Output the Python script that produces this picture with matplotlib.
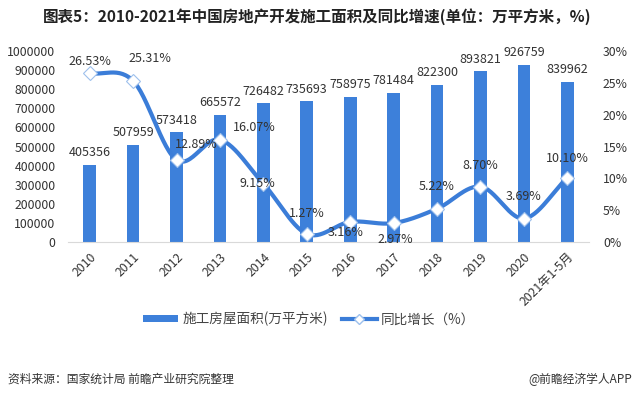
import numpy as np
import matplotlib
matplotlib.use("Agg")
import matplotlib.pyplot as plt
from matplotlib.lines import Line2D
from matplotlib.patches import Patch

plt.rcParams['font.family'] = ['Noto Sans CJK SC', 'DejaVu Sans']

categories = ['2010', '2011', '2012', '2013', '2014', '2015', '2016', '2017',
              '2018', '2019', '2020', '2021年1-5月']
area = [405356, 507959, 573418, 665572, 726482, 735693, 758975, 781484,
        822300, 893821, 926759, 839962]
growth = [26.53, 25.31, 12.89, 16.07, 9.15, 1.27, 3.16, 2.97, 5.22, 8.70, 3.69, 10.10]
left_ticks = list(range(0, 1000001, 100000))
right_ticks = list(range(0, 31, 5))

# label offsets in points (dx, dy) for growth labels
growth_offsets = [(0, 8), (12, 16), (14, 11), (25, 9), (-4, 0), (0, 15),
                  (-3, -8), (1, -12), (0, 16), (0, 15), (0, 16), (0, 14)]

bar_color = '#3D80DA'
line_color = '#3B7DD8'
text_color = '#333333'

fig = plt.figure(figsize=(6.4, 3.99), dpi=100)
ax = fig.add_axes([68/640, 1-242/399, (589-68)/640, (242-51)/399])
x = np.arange(len(categories))
ax.bar(x, area, width=0.29, color=bar_color, zorder=2)
ax.set_xlim(-0.5, len(categories)-0.5)
ax.set_ylim(0, 1000000)
ax.set_yticks(left_ticks)
ax.set_yticklabels([str(v) for v in left_ticks], fontsize=8.8, color=text_color)
ax.set_xticks(x)
ax.set_xticklabels(categories, rotation=45, ha='right', rotation_mode='anchor',
                   fontsize=8.8, color=text_color)
for s in ['top', 'left', 'right']:
    ax.spines[s].set_visible(False)
ax.spines['bottom'].set_color('#D9D9D9')
ax.tick_params(axis='y', length=0, pad=9)
ax.tick_params(axis='x', length=0, pad=6)
for xi, v in zip(x, area):
    ax.annotate(str(v), (xi, v), xytext=(0, 4), textcoords='offset points',
                ha='center', va='bottom', fontsize=9, color=text_color)

ax2 = ax.twinx()
ax2.set_ylim(0, 30)
ax2.set_yticks(right_ticks)
ax2.set_yticklabels([f'{v}%' for v in right_ticks], fontsize=8.8, color=text_color)
for s in ['top', 'left', 'right', 'bottom']:
    ax2.spines[s].set_visible(False)
ax2.tick_params(axis='both', length=0, pad=10)

# Catmull-Rom smoothing through data points
gx = np.array(x, dtype=float)
gy = np.array(growth, dtype=float)
px = np.concatenate([[2*gx[0]-gx[1]], gx, [2*gx[-1]-gx[-2]]])
py = np.concatenate([[2*gy[0]-gy[1]], gy, [2*gy[-1]-gy[-2]]])
sx, sy = [], []
t = np.linspace(0, 1, 30)
for i in range(1, len(px)-2):
    p0, p1, p2, p3 = [np.array([px[j], py[j]]) for j in (i-1, i, i+1, i+2)]
    for tt in t:
        pt = 0.5*((2*p1) + (-p0+p2)*tt + (2*p0-5*p1+4*p2-p3)*tt**2 + (-p0+3*p1-3*p2+p3)*tt**3)
        sx.append(pt[0]); sy.append(pt[1])
ax2.plot(sx, sy, color=line_color, lw=3, zorder=3, solid_capstyle='round')
ax2.plot(gx, gy, ls='none', marker='D', ms=7, mfc='white', mec='#9EC0EC', mew=0.8, zorder=4)
for xi, v, (dx, dy) in zip(gx, gy, growth_offsets):
    ax2.annotate(f'{v:.2f}%', (xi, v), xytext=(dx, dy), textcoords='offset points',
                 ha='center', va='center', fontsize=9, color=text_color, zorder=5)

fig.text(0.496, 1-17/399, '图表5：2010-2021年中国房地产开发施工面积及同比增速(单位：万平方米，%)',
         ha='center', va='center', fontsize=11.2, fontweight='bold', color='#222222')

handles = [Patch(facecolor=bar_color, edgecolor='none'),
           Line2D([0], [0], color=line_color, lw=3, marker='D', ms=5, mfc='white', mec='#9EC0EC')]
fig.legend(handles, ['施工房屋面积(万平方米)', '同比增长（%）'], loc='center',
           bbox_to_anchor=(0.483, 1-319/399), ncol=2, frameon=False, fontsize=9.8,
           handlelength=2.6, handleheight=0.5, columnspacing=1.0, handletextpad=0.3,
           labelcolor='#444444')

fig.text(8/640, 1-379/399, '资料来源：国家统计局 前瞻产业研究院整理', ha='left', va='center',
         fontsize=8.5, color='#333333')
fig.text(632/640, 1-379/399, '@前瞻经济学人APP', ha='right', va='center',
         fontsize=8.5, color='#333333')

fig.savefig('out.png', dpi=100)
